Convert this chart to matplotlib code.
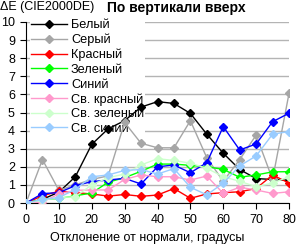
import numpy as np
import matplotlib
matplotlib.use("Agg")
import matplotlib.pyplot as plt
from matplotlib import font_manager

plt.rcParams['font.family'] = ['Liberation Sans', 'DejaVu Sans']

# narrow face for the axis texts if it is there
try:
    font_manager.findfont('Liberation Sans Narrow', fallback_to_default=False)
    axfont = ['Liberation Sans Narrow', 'DejaVu Sans']
    axsize = 10.5
except ValueError:
    axfont = ['Liberation Sans', 'DejaVu Sans']
    axsize = 9

angles = [0, 5, 10, 15, 20, 25, 30, 35, 40, 45, 50, 55, 60, 65, 70, 75, 80]

white = [0, 0.2, 0.6, 1.45, 3.24, 4.1, 4.55, 5.3, 5.6, 5.5, 4.95, 3.8, 2.75, 1.85, 1.35, 1.3, 1.25]
grey = [0, 2.4, 0.7, 1.0, 1.3, 1.5, 4.45, 3.3, 3.05, 3.05, 4.55, 2.5, 1.2, 2.4, 3.75, 1.3, 6.05]
red = [0, 0.4, 0.65, 0.57, 0.5, 0.38, 0.47, 0.37, 0.44, 0.8, 0.26, 0.5, 0.57, 0.62, 0.8, 1.55, 1.1]
green = [0, 0.2, 0.25, 0.4, 0.55, 1.15, 1.4, 1.75, 2.15, 2.15, 2.08, 2.0, 1.86, 1.42, 1.55, 1.72, 1.73]
blue = [0, 0.52, 0.57, 0.96, 1.18, 1.27, 1.36, 1.05, 2.0, 2.1, 1.67, 2.23, 4.22, 2.93, 3.26, 4.49, 4.96]
lt_red = [0, 0.05, 0.5, 0.7, 0.72, 0.72, 1.3, 1.55, 1.45, 1.45, 1.27, 1.49, 0.53, 0.87, 0.72, 0.53, 0.62]
lt_green = [0, 0.15, 0.3, 0.35, 1.0, 1.4, 1.6, 2.1, 2.45, 2.35, 2.2, 1.92, 1.45, 1.2, 0.9, 1.1, 1.45]
lt_blue = [0, 0.2, 0.3, 0.75, 1.45, 1.55, 1.8, 1.85, 1.6, 1.9, 0.87, 0.45, 1.1, 2.05, 2.6, 3.8, 3.95]

names = ["Белый", "Серый", "Красный", "Зеленый", "Синий",
         "Св. красный", "Св. зеленый", "Св. синий"]
colors = ["#000000", "#a6a6a6", "#ff0000", "#00ff00", "#0000ff",
          "#ff99cc", "#ccffcc", "#99ccff"]
series = [white, grey, red, green, blue, lt_red, lt_green, lt_blue]

fig = plt.figure(figsize=(2.96, 2.44), dpi=100)
ax = fig.add_axes([26/296, 1-203/244, 263/296, 181/244])

for name, col, vals in zip(names, colors, series):
    ax.plot(angles, vals, color=col, lw=1, marker='D', ms=3.8,
            mec=col, mfc=col, label=name, zorder=3)

ax.set_xlim(0, 80)
ax.set_ylim(0, 10)
ax.set_xticks(range(0, 81, 10))
ax.set_yticks(range(0, 11))
ax.yaxis.grid(True, color='#b4b4b4', lw=1)
ax.set_axisbelow(True)
for s in ['top', 'right']:
    ax.spines[s].set_visible(False)
ax.spines['left'].set_linewidth(0.8)
ax.spines['bottom'].set_linewidth(0.8)
ax.tick_params(axis='both', direction='out', length=4, width=0.8,
               labelsize=axsize, pad=4)
for lab in ax.get_xticklabels() + ax.get_yticklabels():
    lab.set_family(axfont)

fig.text(147/296, 1-238/244, "Отклонение от нормали, градусы", ha='center',
         va='center', fontsize=axsize, family=axfont)
fig.text(0.0, 0.995, "ΔE (CIE2000DE)", ha='left', va='top', fontsize=axsize,
         family=axfont)
fig.text(107/296, 0.995, "По вертикали вверх", ha='left', va='top',
         fontsize=10, fontweight='bold')

# legend sits over the grid but under the data lines
leg = ax.legend(loc='upper left', bbox_to_anchor=(30/296, 1-18/244),
                bbox_transform=fig.transFigure, frameon=True, fontsize=9.2,
                handlelength=2.8, handletextpad=0.3, labelspacing=0.2,
                borderpad=0.1, borderaxespad=0)
leg.get_frame().set_edgecolor('none')
leg.get_frame().set_facecolor('white')
leg.get_frame().set_alpha(1)
leg.get_frame().set_boxstyle('square', pad=0)
leg.set_zorder(1.5)

fig.savefig("out.png", dpi=100)
